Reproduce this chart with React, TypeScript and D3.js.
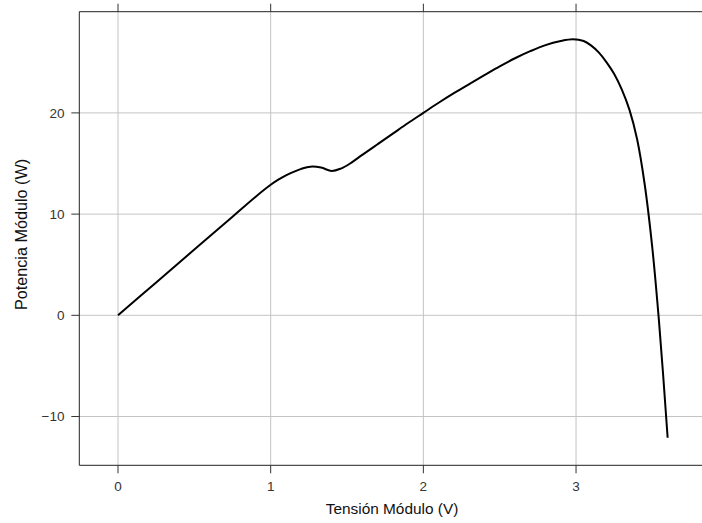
import React from "react";
import * as d3 from "d3";

const voltage = [0, 0.25, 0.5, 0.75, 0.9, 1.0, 1.05, 1.1, 1.15, 1.2, 1.26, 1.33, 1.4, 1.46, 1.52, 1.6, 1.7, 1.8, 1.9, 2.0, 2.1, 2.2, 2.3, 2.4, 2.5, 2.6, 2.7, 2.8, 2.9, 2.98, 3.05, 3.1, 3.15, 3.2, 3.25, 3.3, 3.35, 3.4, 3.45, 3.5, 3.54, 3.57, 3.59, 3.6];
const power = [0, 3.25, 6.5, 9.75, 11.7, 12.9, 13.4, 13.83, 14.18, 14.47, 14.69, 14.6, 14.26, 14.5, 15.0, 15.85, 16.9, 17.95, 19.0, 20.0, 21.0, 21.95, 22.85, 23.73, 24.6, 25.4, 26.1, 26.7, 27.1, 27.27, 27.1, 26.65, 25.95, 25.0, 23.85, 22.3, 20.3, 17.4, 12.9, 6.6, 0, -5.8, -10, -12.1];
const xTicks = [0, 1, 2, 3];
const yTicks = [-10, 0, 10, 20];
const xLabel = "Tensión Módulo (V)";
const yLabel = "Potencia Módulo (W)";

export default function App() {
  const W = 702, H = 523;
  const left = 79.3, right = 702, top = 11.7, bottom = 465.3;
  const x = d3.scaleLinear().domain([-0.2535, 3.825]).range([left, right]);
  const y = d3.scaleLinear().domain([-14.82, 30.0]).range([bottom, top]);
  const data = voltage.map((v, i) => [v, power[i]] as [number, number]);
  const line = d3.line<[number, number]>().x(d => x(d[0])).y(d => y(d[1])).curve(d3.curveCatmullRom.alpha(0.5));
  const font = "'Liberation Sans', Arial, sans-serif";
  return (
    <svg width={W} height={H} style={{ position: "absolute", left: 0, top: 0, background: "#fff" }} fontFamily={font}>
      {xTicks.map(t => (
        <line key={"gx" + t} x1={x(t)} x2={x(t)} y1={top} y2={bottom} stroke="#c4c4c4" strokeWidth={1} />
      ))}
      {yTicks.map(t => (
        <line key={"gy" + t} x1={left} x2={right} y1={y(t)} y2={y(t)} stroke="#c4c4c4" strokeWidth={1} />
      ))}
      <path d={line(data) || ""} fill="none" stroke="#000" strokeWidth={2} strokeLinejoin="round" />
      <line x1={left} x2={right + 2} y1={top} y2={top} stroke="#222" strokeWidth={1} />
      <line x1={left} x2={right + 2} y1={bottom} y2={bottom} stroke="#222" strokeWidth={1} />
      <line x1={left} x2={left} y1={top} y2={bottom} stroke="#222" strokeWidth={1} />
      {xTicks.map(t => (
        <g key={"tx" + t}>
          <line x1={x(t)} x2={x(t)} y1={bottom} y2={bottom + 8} stroke="#333" strokeWidth={1} />
          <line x1={x(t)} x2={x(t)} y1={top} y2={top - 8} stroke="#333" strokeWidth={1} />
          <text x={x(t)} y={491} textAnchor="middle" fontSize={13.5} fill="#333">{t}</text>
        </g>
      ))}
      {yTicks.map(t => (
        <g key={"ty" + t}>
          <line x1={left - 8} x2={left} y1={y(t)} y2={y(t)} stroke="#333" strokeWidth={1} />
          <text x={64.5} y={y(t)} dy="0.36em" textAnchor="end" fontSize={13.5} fill="#333">{t < 0 ? "\u2212" + Math.abs(t) : t}</text>
        </g>
      ))}
      <text x={392} y={514} textAnchor="middle" fontSize={15.4} fill="#111">{xLabel}</text>
      <text transform={`translate(26.7, 234.5) rotate(-90)`} textAnchor="middle" fontSize={16.2} fill="#111">{yLabel}</text>
    </svg>
  );
}
